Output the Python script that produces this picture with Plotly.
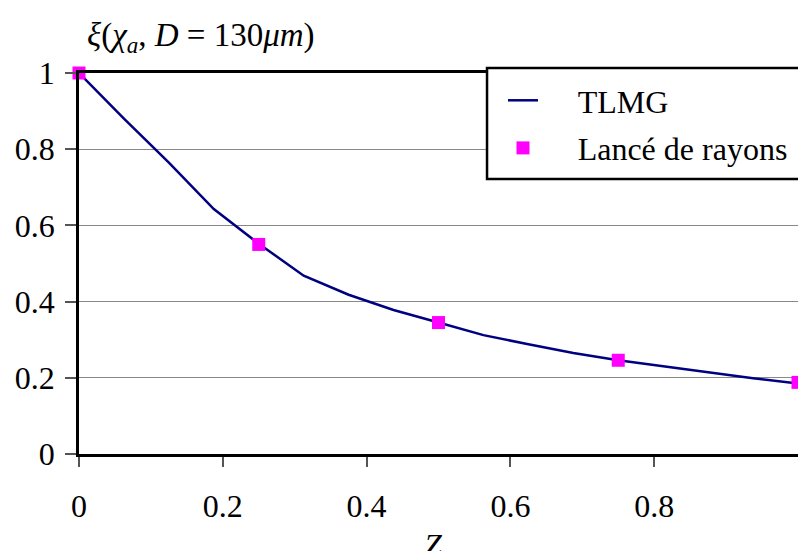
import plotly.graph_objects as go

# TLMG curve (x = k/16)
tlmg_x = [0, 0.0625, 0.125, 0.1875, 0.25, 0.3125, 0.375, 0.4375, 0.5,
          0.5625, 0.625, 0.6875, 0.75, 0.8125, 0.875, 0.9375, 1.0]
tlmg_y = [1.0, 0.88, 0.765, 0.643, 0.552, 0.468, 0.418, 0.378, 0.345,
          0.312, 0.288, 0.265, 0.246, 0.23, 0.214, 0.199, 0.185]

# Ray tracing points
ray_x = [0, 0.25, 0.5, 0.75, 1.0]
ray_y = [1.0, 0.55, 0.345, 0.246, 0.188]

x_ticks = [0, 0.2, 0.4, 0.6, 0.8]
x_ticklabels = ["0", "0.2", "0.4", "0.6", "0.8"]
y_ticks = [0, 0.2, 0.4, 0.6, 0.8, 1]
y_ticklabels = ["0", "0.2", "0.4", "0.6", "0.8", "1"]

series_names = ["TLMG", "Lancé de rayons"]
PAD = "\u2002\u2002\u200a"  # gap between legend symbol and text

FONT = "Liberation Serif, Times New Roman, serif"

fig = go.Figure()
fig.add_trace(go.Scatter(
    x=tlmg_x, y=tlmg_y, mode="lines", name=PAD + series_names[0],
    line=dict(color="#000080", width=2.5), cliponaxis=False,
    legendgroup="a",
))
fig.add_trace(go.Scatter(
    x=ray_x, y=ray_y, mode="markers", name=PAD + series_names[1],
    marker=dict(symbol="square", size=13, color="#FF00FF", line=dict(width=0)),
    cliponaxis=False, legendgroup="b",
))

fig.update_layout(
    width=798, height=551,
    margin=dict(l=79, r=0, t=73, b=97),
    paper_bgcolor="white", plot_bgcolor="white",
    font=dict(family=FONT, size=32, color="black"),
    showlegend=True,
    legend=dict(
        x=0.5897, xanchor="left", y=1.0, yanchor="top",
        bgcolor="rgba(0,0,0,0)", borderwidth=0,
        font=dict(family=FONT, size=32, color="black"),
        itemwidth=30, tracegroupgap=3,
    ),
    xaxis=dict(
        range=[0, 1.0], tickvals=x_ticks, ticktext=x_ticklabels,
        showgrid=False, zeroline=False, automargin=False,
        showline=True, linecolor="black", linewidth=2.5, mirror=True,
        ticks="outside", ticklen=10, tickwidth=1.5, tickcolor="#555",
        ticklabelstandoff=12,
        tickfont=dict(family=FONT, size=32, color="black"),
    ),
    yaxis=dict(
        range=[0, 1], tickvals=y_ticks, ticktext=y_ticklabels,
        showgrid=True, gridcolor="#888888", gridwidth=1.3, zeroline=False,
        automargin=False,
        showline=True, linecolor="black", linewidth=2.5, mirror=False,
        ticks="outside", ticklen=11, tickwidth=1.5, tickcolor="#555",
        ticklabelstandoff=4,
        tickfont=dict(family=FONT, size=32, color="black"),
    ),
    shapes=[dict(
        type="rect", xref="paper", yref="paper",
        x0=0.5675, x1=1.03, y0=0.7218, y1=1.0131,
        line=dict(color="black", width=2.5), fillcolor="white", layer="above",
    )],
    annotations=[
        dict(
            text="<i>ξ</i>(<i>χ</i><sub><i>a</i></sub>, <i>D</i> = 130<i>μm</i>)",
            xref="paper", yref="paper", x=0.0083, y=1.092,
            xanchor="left", yanchor="middle", showarrow=False,
            font=dict(family=FONT, size=33, color="black"),
        ),
        dict(
            text="<i>Z</i><sub><i>a</i></sub>",
            xref="paper", yref="paper", x=0.5, y=-0.245,
            xanchor="center", yanchor="middle", showarrow=False,
            font=dict(family=FONT, size=32, color="black"),
        ),
    ],
)

fig.write_html("out.html", config={"displayModeBar": False},
               post_script="document.body.style.margin='0';")
